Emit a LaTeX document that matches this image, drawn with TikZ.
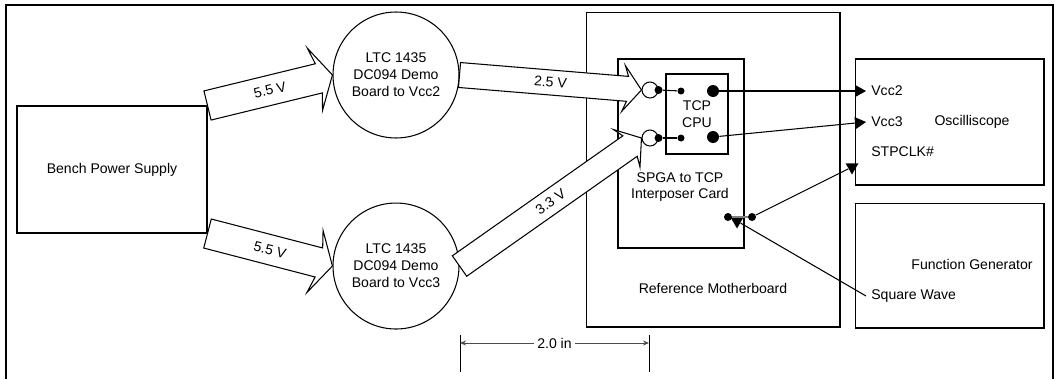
\documentclass[tikz,border=0pt]{standalone}
\usepackage{fontspec}
\setmainfont{Liberation Sans}
\usetikzlibrary{arrows.meta, positioning, calc, shapes.geometric}

% wide outlined arrow: tail, tip, label, shaft half width, head half width
\newcommand{\fatarrow}[5]{%
  \draw[fatline] let \p1=($(#2)-(#1)$), \n1={atan2(\y1,\x1)}, \n2={veclen(\x1,\y1)} in
    ([shift={(#1)},rotate=\n1]0pt,#4) -- ([shift={(#1)},rotate=\n1]{\n2*1pt-0.28cm},#4)
    -- ([shift={(#1)},rotate=\n1]{\n2*1pt-0.36cm},#5) -- ([shift={(#1)},rotate=\n1]{\n2*1pt},0pt)
    -- ([shift={(#1)},rotate=\n1]{\n2*1pt-0.36cm},-#5) -- ([shift={(#1)},rotate=\n1]{\n2*1pt-0.28cm},-#4)
    -- ([shift={(#1)},rotate=\n1]0pt,-#4) -- cycle;
  \path (#1) -- (#2) node[midway, sloped, fatlabel] {#3};
}

\begin{document}
\begin{tikzpicture}[
    x=0.02cm, y=-0.02cm,
    font=\fontsize{8}{9.6}\selectfont,
    blockbox/.style={draw, line width=0.6pt, inner sep=0pt, align=center},
    boardcirc/.style={draw, circle, line width=0.6pt, minimum size=2.52cm,
        inner sep=0pt, align=center, fill=white},
    jackcirc/.style={draw, circle, line width=0.6pt, minimum size=0.32cm, inner sep=0pt},
    pindot/.style={circle, fill=black, inner sep=0pt, minimum size=#1},
    pindot/.default=0.16cm,
    fatline/.style={draw, line width=0.6pt, fill=white},
    fatlabel/.style={inner sep=1pt},
    sigline/.style={line width=0.6pt},
    sigarrow/.style={sigline, -{Triangle[length=0.22cm, width=0.24cm]}},
    downtri/.style={regular polygon, regular polygon sides=3, shape border rotate=180,
        fill=black, inner sep=0pt, minimum size=0.3cm},
    pinlabel/.style={anchor=west, inner sep=0.1cm},
    dimline/.style={line width=0.5pt, black!70,
        {Stealth[length=0.12cm, width=0.1cm]}-{Stealth[length=0.12cm, width=0.1cm]}}
]
\useasboundingbox (0,0) rectangle (1058,379);

% frame
\draw[line width=1.5pt] (6,379) -- (6,5) -- (1053,5) -- (1053,379);

% Bench supply
\node[blockbox, minimum width=3.8cm, minimum height=2.54cm] (bps) at (112,169.5) {Bench Power Supply};

% Regulator boards
\node[boardcirc] (ltc2) at (396,75) {LTC 1435\\DC094 Demo\\Board to Vcc2};
\node[boardcirc, below=1.28cm of ltc2] (ltc3) {LTC 1435\\DC094 Demo\\Board to Vcc3};

% Motherboard, interposer and CPU
\node[blockbox, minimum width=5.08cm, minimum height=6.3cm] (mobo) at (713,169.5) {};
\node (mobotxt) at (713,288) {Reference Motherboard};
\node[blockbox, minimum width=2.52cm, minimum height=3.78cm] (card) at (681,153.5) {};
\node[align=center] (cardtxt) at (680,187) {SPGA to TCP\\Interposer Card};
\node[blockbox, minimum width=1.24cm, minimum height=1.6cm] (cpu) at (697,114) {TCP\\CPU};

% Jacks and pins
\node[jackcirc] (jack2) at (650,90) {};
\node[jackcirc] (jack3) at (650,138) {};
\node[pindot] (pin2a) at (jack2.east) {};
\node[pindot=0.14cm] (pin2b) at (681,91) {};
\node[pindot=0.24cm] (pin2c) at (713,91) {};
\node[pindot] (pin3a) at (jack3.east) {};
\node[pindot=0.14cm] (pin3b) at (681,138) {};
\node[pindot=0.24cm] (pin3c) at (713,137) {};
\draw[sigline] (pin2a) -- (pin2b);
\draw[sigline] (pin3a) -- (pin3b);

% Instruments
\node[blockbox, minimum width=3.78cm, minimum height=2.52cm] (osc) at (949.5,122) {};
\node (osctxt) at (972,122) {Oscilliscope};
\node[pinlabel] (vcc2) at (866,91) {Vcc2};
\node[pinlabel] (vcc3) at (866,122) {Vcc3};
\node[pinlabel] (stpclk) at (866,152) {STPCLK\#};
\node[blockbox, minimum width=3.78cm, minimum height=2.5cm, below=0.34cm of osc] (fgen) {};
\node (fgentxt) at (972,264) {Function Generator};
\node[pinlabel] (sqw) at (866,296) {Square Wave};

% Probes
\draw[sigarrow] (pin2c) -- (vcc2.west);
\draw[sigarrow] (pin3c) -- (vcc3.west);
\node[pindot] (clk1) at (728,217) {};
\node[pindot] (clk2) at (752,217) {};
\node[downtri] (stptri) at (852,167) {};
\node[downtri] (sqtri) at (737,221) {};
\draw[sigline, black!50] (clk1) -- (clk2);
\draw[sigline] (clk2) -- (stptri);
\draw[sigline] (sqw.west) -- (sqtri);

% Supply arrows
\fatarrow{bps.north east}{ltc2.west}{5.5 V}{0.3cm}{0.64cm}
\fatarrow{bps.south east}{ltc3.west}{5.5 V}{0.3cm}{0.64cm}
\fatarrow{ltc2.east}{jack2.west}{2.5 V}{0.25cm}{0.46cm}
\fatarrow{ltc3.east}{jack3.west}{3.3 V}{0.25cm}{0.46cm}

% Dimension
\coordinate (dimL) at (460,343);
\coordinate (dimR) at (649,343);
\draw[line width=0.5pt] ($(dimL)+(0,-8)$) -- ($(dimL)+(0,29)$);
\draw[line width=0.5pt] ($(dimR)+(0,-8)$) -- ($(dimR)+(0,29)$);
\draw[dimline] (dimL) -- (dimR) node[midway, fill=white, inner sep=2pt, text=black] {2.0 in};

\end{tikzpicture}
\end{document}
